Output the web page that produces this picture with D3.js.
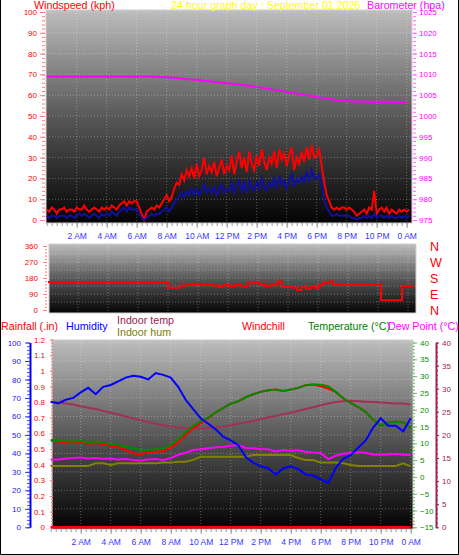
<!DOCTYPE html>
<html><head><meta charset="utf-8">
<script src="https://cdn.jsdelivr.net/npm/d3@7/dist/d3.min.js"></script>
<style>body{margin:0;background:#fff}svg{display:block;font-family:"Liberation Sans",Arial,sans-serif}</style>
</head><body><svg id="c" width="459" height="555"></svg>
<script>
// ---------- DATA ----------
const xTickHours = [2,4,6,8,10,12,14,16,18,20,22,24];
const xTickLabels = ["2 AM","4 AM","6 AM","8 AM","10 AM","12 PM","2 PM","4 PM","6 PM","8 PM","10 PM","0 AM"];
// wind, one sample every 10 minutes from 0:00
const windGust = [
5,4,6,5,3,5, 5,6,4,5,5,4, 6,5,5,7,5,4, 5,6,5,4,6,5, 6,5,7,6,5,7, 8,9,7,9,8,9,
9,6,3,0,4,5, 6,5,7,6,8,10, 12,9,11,15,18,17, 22,19,24,21,25,20, 27,21,24,30,22,26, 23,28,21,25,29,22,
26,24,31,22,28,33, 25,30,23,33,27,24, 31,26,34,28,24,30, 27,33,25,34,29,32, 26,31,35,24,30,27, 33,28,35,29,36,30,
31,34,26,18,12,9, 6,5,6,5,6,6, 5,6,5,4,2,3, 4,5,3,6,5,14, 3,5,6,4,6,3, 5,4,3,5,4,5, 4,5];
const windAvg = [
2,1,2,2,1,2, 2,2,1,2,2,1, 2,3,2,3,2,1, 2,3,2,1,3,2, 3,2,4,3,2,4, 5,6,4,6,5,5,
5,3,1,0,1,2, 3,2,3,3,4,5, 6,4,6,8,10,11, 13,11,14,12,15,12, 15,12,14,17,13,15, 13,16,12,15,17,13,
15,14,18,13,16,19, 14,18,13,19,16,14, 18,15,20,16,14,18, 16,20,15,21,17,19, 15,19,22,16,20,18, 21,18,23,19,24,20,
20,22,17,10,6,4, 2,2,3,2,2,2, 2,2,1,1,0,1, 1,2,1,2,1,3, 1,2,2,1,2,1, 2,1,1,2,1,2, 1,2];
// barometer, every 30 minutes
const barometer = [
1009.5,1009.5,1009.5,1009.5,1009.5,1009.5,1009.5,1009.5,1009.5,1009.5,1009.5,1009.5,1009.5,1009.5,1009.5,
1009.4,1009.3,1009.2,1009.0,1008.8,1008.7,1008.5,1008.3,1008.1,1007.9,1007.7,1007.5,1007.3,1007.0,1006.7,
1006.4,1006.1,1005.8,1005.5,1005.2,1004.9,1004.6,1004.3,1004.0,1003.8,1003.6,1003.5,1003.5,1003.4,1003.4,
1003.4,1003.4,1003.3,1003.3];
// wind direction (hour, degrees)
const dirHours = [0,7.9,8.0,8.8,9.2,9.6,10.0,10.5,11.0,11.4,11.7,12.1,12.5,12.9,13.3,13.7,14.1,14.5,14.9,15.3,15.6,16.0,16.4,16.6,16.9,17.2,17.5,17.8,18.1,18.4,18.7,19.0,19.3,22.1,22.2,23.5,23.6,24.3];
const dirDeg   = [158,158,125,137,140,147,142,140,138,130,140,132,140,132,150,153,145,135,140,160,130,128,125,112,130,120,135,125,140,155,160,145,140,140,55,55,135,138];
// bottom panel, every 30 minutes
const humidity = [68,67,69,70,73,75.5,72,76,77,79,81,82,81.5,80,83.5,82.5,81,76,69,64,59,56,53,49,47,44.5,38,35,33,32,28.5,32,33,31.5,28.5,28,26,24,32,37,39,43,47,54,59,55,55,52,59];
const temperature = [11.0,10.8,10.6,10.5,10.7,10.3,10.5,10.2,9.8,9.5,9.0,8.5,8.0,8.1,8.2,8.5,9.5,11.2,13.2,15.2,16.5,17.7,19.2,20.5,21.8,22.5,23.7,24.6,25.3,25.8,26.0,25.6,26.0,26.5,27.3,27.5,27.4,27.0,25.3,23.4,22.0,20.8,19.3,17.0,15.2,16.2,16.4,16.2,14.6];
const windchill = [10.8,10.5,10.2,10.1,10.3,9.9,10.1,9.8,9.2,8.8,8.0,7.0,6.8,7.3,7.5,7.6,8.8,10.3,12.5,14.5,16.0,17.5,19.2,20.5,21.8,22.5,23.7,24.6,25.3,25.8,26.0,25.6,26.0,26.5,27.3,27.5,27.0,26.3,25.3,23.4,22.0,20.8,19.3,17.0,15.2,16.2,16.4,16.2,14.6];
const dewPoint = [5.1,5.2,5.5,5.6,5.8,5.5,5.6,5.4,5.5,5.2,5.3,5.0,4.9,5.2,5.3,5.0,5.6,6.6,7.2,8.0,8.2,8.5,8.8,9.0,9.3,9.5,8.6,8.5,8.3,8.2,7.6,8.0,7.8,7.9,7.5,7.3,7.1,5.3,6.3,6.9,7.1,7.3,7.2,6.7,6.6,6.7,6.8,6.6,6.5];
const indoorTemp = [27.2,27.0,26.8,26.6,26.2,25.9,25.6,25.2,24.8,24.4,24.0,23.6,23.2,22.8,22.4,22.1,21.8,21.6,21.5,21.5,21.4,21.5,21.6,21.8,22.1,22.4,22.7,23.0,23.4,23.8,24.1,24.5,24.8,25.2,25.6,26.0,26.4,26.8,27.1,27.3,27.4,27.3,27.2,27.1,27.0,26.9,26.8,26.8,26.6];
const indoorHum = [33.2,33.2,33.2,33.2,33.2,33.2,34.6,34.6,33.7,34.6,34.6,34.6,34.6,34.6,34.6,35.0,35.0,35.5,35.5,36.5,38.2,38.2,38.2,38.2,38.2,38.2,38.2,39.1,39.1,39.1,39.1,39.1,39.1,37.5,36.4,36.4,35.0,35.0,35.0,34.6,33.7,33.2,33.2,33.2,33.2,33.2,33.2,34.6,33.0];
const rainfall = [0,0];
const rainHours = [0,24];

// ---------- DRAW ----------
const svg = d3.select("#c");
const defs = svg.append("defs");
const g0 = defs.append("linearGradient").attr("id","bg").attr("x1",0).attr("y1",0).attr("x2",0).attr("y2",1);
g0.append("stop").attr("offset",0).attr("stop-color","#bdbdbd");
g0.append("stop").attr("offset",0.5).attr("stop-color","#585858");
g0.append("stop").attr("offset",1).attr("stop-color","#030303");

// frame
svg.append("path").attr("d","M0.5,0 V554.5 H458.5 V0").attr("fill","none").attr("stroke","#000");

const font = "\"Liberation Sans\",Arial,sans-serif";
function txt(x,y,s,color,size,anchor){
  return svg.append("text").attr("x",x).attr("y",y).attr("fill",color).attr("font-size",size)
    .attr("text-anchor",anchor||"start").attr("font-family",font).text(s);
}
function panelBg(x0,y0,x1,y1){
  svg.append("rect").attr("x",x0).attr("y",y0).attr("width",x1-x0).attr("height",y1-y0)
    .attr("fill","url(#bg)").attr("stroke","#cfcfcf").attr("stroke-width",1);
}
function grid(xs, ys, yVals, x0,x1,y0,y1){
  const gg = svg.append("g").attr("stroke","rgba(255,255,255,0.3)").attr("stroke-dasharray","1,2");
  yVals.forEach(v=>gg.append("line").attr("x1",x0).attr("x2",x1).attr("y1",ys(v)).attr("y2",ys(v)));
  xTickHours.forEach(h=>{ if(xs(h)<x1) gg.append("line").attr("x1",xs(h)).attr("x2",xs(h)).attr("y1",y0).attr("y2",y1);});
}
function styleAxis(g, tickColor, textColor, size){
  g.attr("font-family",font).attr("font-size",size||8);
  g.selectAll(".tick line").attr("stroke",tickColor);
  g.selectAll(".tick text").attr("fill",textColor);
  return g;
}
function xAxis(xs, y){
  const minor = d3.range(0,73).map(k=>k/3);
  const gm = svg.append("g").attr("transform",`translate(0,${y})`)
    .call(d3.axisBottom(xs).tickValues(minor).tickSize(3).tickFormat(""));
  gm.select(".domain").remove(); styleAxis(gm,"#9a9a9a","#000");
  const g = svg.append("g").attr("transform",`translate(0,${y})`)
    .call(d3.axisBottom(xs).tickValues(xTickHours).tickSize(5).tickPadding(5)
      .tickFormat((d,i)=>xTickLabels[i]));
  g.select(".domain").remove(); styleAxis(g,"#9a9a9a","#3535ff",8.5);
}

// ===== Top panel =====
const T = {x0:46, x1:412, y0:10, y1:223};
const xTop = d3.scaleLinear().domain([0,24]).range([46.7,406.7]);
const yWind = d3.scaleLinear().domain([0,100]).range([220,12]);
const yBaro = d3.scaleLinear().domain([975,1025]).range([220,12]);
panelBg(T.x0,T.y0,T.x1,T.y1);
grid(xTop,yWind,d3.range(10,101,10),T.x0,T.x1,T.y0,T.y1);

let a = svg.append("g").attr("transform","translate(45,0)")
  .call(d3.axisLeft(yWind).tickValues(d3.range(0,101,2)).tickSize(3).tickFormat(""));
a.select(".domain").remove(); styleAxis(a,"#ff7a7a","#f00");
a = svg.append("g").attr("transform","translate(45,0)")
  .call(d3.axisLeft(yWind).tickValues(d3.range(0,101,10)).tickSize(5).tickPadding(3));
a.select(".domain").remove(); styleAxis(a,"#ff7a7a","#f00");
a = svg.append("g").attr("transform","translate(413,0)")
  .call(d3.axisRight(yBaro).tickValues(d3.range(975,1026,1)).tickSize(3).tickFormat(""));
a.select(".domain").remove(); styleAxis(a,"#ff66ff","#f0f");
a = svg.append("g").attr("transform","translate(413,0)")
  .call(d3.axisRight(yBaro).tickValues(d3.range(975,1026,5)).tickSize(4).tickPadding(2).tickFormat(d3.format("d")));
a.select(".domain").remove(); styleAxis(a,"#ff66ff","#f0f");

const lineGust = d3.line().x((d,i)=>xTop(i/6)).y(d=>yWind(d));
svg.append("path").datum(windGust).attr("d",lineGust).attr("fill","none").attr("stroke","#ff0000").attr("stroke-width",2);
svg.append("path").datum(windAvg).attr("d",lineGust).attr("fill","none").attr("stroke","#1010a0").attr("stroke-width",2);
svg.append("path").datum(barometer).attr("d",d3.line().x((d,i)=>xTop(i/2)).y(d=>yBaro(d)))
  .attr("fill","none").attr("stroke","#ff00ff").attr("stroke-width",2);
xAxis(xTop,T.y1);

txt(34,9,"Windspeed (kph)","#ff0000",10.7);
txt(171,9,"24 hour graph day : September 01 2026","#ffff00",10.7);
txt(367,9,"Barometer (hpa)","#ff00ff",10.7);

// ===== Middle panel =====
const M = {x0:49, x1:416, y0:244, y1:313};
const xMid = d3.scaleLinear().domain([0,24]).range([48,408]);
const yDir = d3.scaleLinear().domain([0,360]).range([310,246]);
panelBg(M.x0,M.y0,M.x1,M.y1);
grid(xMid,yDir,[45,90,135,180,225,270,315],M.x0,M.x1,M.y0,M.y1);
a = svg.append("g").attr("transform","translate(47,0)")
  .call(d3.axisLeft(yDir).tickValues(d3.range(0,361,18)).tickSize(2).tickFormat(""));
a.select(".domain").remove(); styleAxis(a,"#ff7a7a","#f00");
a = svg.append("g").attr("transform","translate(47,0)")
  .call(d3.axisLeft(yDir).tickValues([0,90,180,270,360]).tickSize(4).tickPadding(5));
a.select(".domain").remove(); styleAxis(a,"#ff7a7a","#f00");
svg.append("path").datum(dirDeg)
  .attr("d",d3.line().curve(d3.curveStepAfter).x((d,i)=>xMid(dirHours[i])).y(d=>yDir(d)))
  .attr("fill","none").attr("stroke","#ff0000").attr("stroke-width",2);
const compass = ["N","W","S","E","N"], compassDeg=[360,270,180,90,0];
compass.forEach((c,i)=>txt(430,yDir(compassDeg[i])+4.5,c,"#ff0000",12.5));

// ===== Bottom panel =====
const B = {x0:52, x1:413, y0:340, y1:529};
const xBot = d3.scaleLinear().domain([0,24]).range([50.7,410.7]);
const yRain = d3.scaleLinear().domain([0,1.2]).range([527.3,339.5]);
const yHum = d3.scaleLinear().domain([0,100]).range([527.3,342.5]);
const yTemp = d3.scaleLinear().domain([-15,40]).range([527.3,342.5]);
const yIn = d3.scaleLinear().domain([0,40]).range([527.3,342.5]);
panelBg(B.x0,B.y0,B.x1,B.y1);
grid(xBot,yHum,d3.range(10,101,10),B.x0,B.x1,B.y0,B.y1);

// humidity axis
a = svg.append("g").attr("transform","translate(30,0)")
  .call(d3.axisLeft(yHum).tickValues(d3.range(0,101,2)).tickSize(3).tickFormat(""));
a.select(".domain").remove(); styleAxis(a,"#5050ff","#00f");
a = svg.append("g").attr("transform","translate(30,0)")
  .call(d3.axisLeft(yHum).tickValues(d3.range(0,101,10)).tickSize(5).tickSizeOuter(0).tickPadding(4));
a.select(".domain").attr("stroke","#0000ff").attr("stroke-width",2); styleAxis(a,"#3030ff","#2020ff");
// rain axis
a = svg.append("g").attr("transform","translate(53,0)")
  .call(d3.axisLeft(yRain).tickValues(d3.range(0,61).map(k=>k*0.02)).tickSize(2).tickFormat(""));
a.select(".domain").remove(); styleAxis(a,"#ff7a7a","#f00");
a = svg.append("g").attr("transform","translate(53,0)")
  .call(d3.axisLeft(yRain).tickValues(d3.range(0,13).map(k=>k/10)).tickSize(3).tickPadding(5).tickFormat(d3.format("~g")));
a.select(".domain").remove(); styleAxis(a,"#ff7a7a","#f00");
// temperature axis
a = svg.append("g").attr("transform","translate(413,0)")
  .call(d3.axisRight(yTemp).tickValues(d3.range(-15,41,1)).tickSize(2).tickFormat(""));
a.select(".domain").remove(); styleAxis(a,"#60c060","#090");
a = svg.append("g").attr("transform","translate(413,0)")
  .call(d3.axisRight(yTemp).tickValues(d3.range(-15,41,5)).tickSize(4).tickPadding(3).tickFormat(d3.format("d")));
a.select(".domain").remove(); styleAxis(a,"#60c060","#009000");
// indoor temp axis
a = svg.append("g").attr("transform","translate(436,0)")
  .call(d3.axisRight(yIn).tickValues(d3.range(0,41,1)).tickSize(2).tickFormat(""));
a.select(".domain").remove(); styleAxis(a,"#a0204f","#a0204f");
a = svg.append("g").attr("transform","translate(436,0)")
  .call(d3.axisRight(yIn).tickValues(d3.range(0,41,5)).tickSize(3).tickSizeOuter(0).tickPadding(3));
a.select(".domain").attr("stroke","#a0204f").attr("stroke-width",2); styleAxis(a,"#a0204f","#a0204f");

const lh = ys => d3.line().x((d,i)=>xBot(i/2)).y(d=>ys(d));
function plot(data, ys, color){
  svg.append("path").datum(data).attr("d",lh(ys)).attr("fill","none").attr("stroke",color).attr("stroke-width",2);
}
plot(indoorHum, yHum, "#828200");
plot(indoorTemp, yIn, "#a33055");
plot(dewPoint, yTemp, "#ff00ff");
plot(windchill, yTemp, "#ff0000");
plot(temperature, yTemp, "#008a00");
plot(humidity, yHum, "#0000ff");
svg.append("path").datum(rainfall).attr("d",d3.line().x((d,i)=>xBot(rainHours[i])).y(d=>yRain(d)))
  .attr("fill","none").attr("stroke","#ff0000").attr("stroke-width",2.5);
xAxis(xBot,B.y1);

txt(1,330,"Rainfall (.in)","#ff0000",10.7);
txt(66,330,"Humidity","#0000ff",10.7);
txt(117,324,"Indoor temp","#a0204f",10.7);
txt(117,336,"Indoor hum","#808000",10.7);
txt(242,330,"Windchill","#ff0000",10.7);
txt(308,330,"Temperature (°C)","#008000",10.7);
txt(388,330,"Dew Point (°C)","#ff00ff",10.7);
</script></body></html>
